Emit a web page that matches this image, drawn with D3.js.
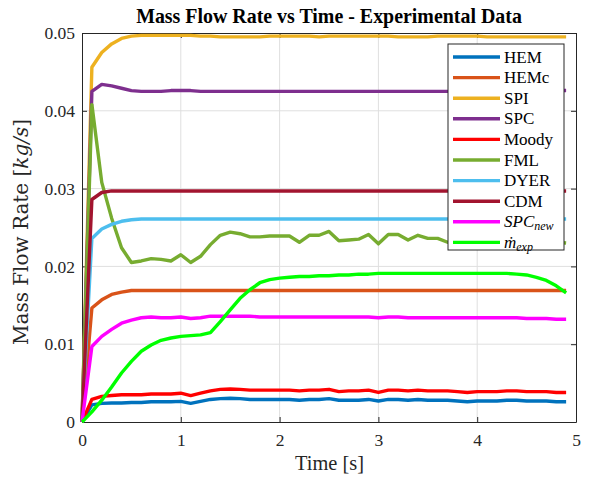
<!DOCTYPE html>
<html><head><meta charset="utf-8">
<script src="https://cdn.jsdelivr.net/npm/d3@7"></script>
<style>body{margin:0;background:#fff}svg{display:block}svg text{font-family:"Liberation Serif","Times New Roman",serif}</style>
</head><body><svg id="c" width="589" height="479"></svg>
<script>
const time = [0,0.1,0.2,0.3,0.4,0.5,0.6,0.7,0.8,0.9,1.0,1.1,1.2,1.3,1.4,1.5,1.6,1.7,1.8,1.9,2.0,2.1,2.2,2.3,2.4,2.5,2.6,2.7,2.8,2.9,3.0,3.1,3.2,3.3,3.4,3.5,3.6,3.7,3.8,3.9,4.0,4.1,4.2,4.3,4.4,4.5,4.6,4.7,4.8,4.9];
const HEM = [0,.0022,.0024,.00245,.00245,.0025,.0025,.0026,.0026,.0026, .00265,.0024,.00265,.0029,.0030,.00305,.0030,.0029,.0029,.0029, .0029,.0029,.0028,.0029,.0029,.0030,.0028,.0028,.0028,.0029, .0027,.0029,.0029,.0028,.0029,.0028,.0028,.0028,.0027,.0026, .0027,.0027,.0027,.0028,.0028,.0027,.0027,.0027,.0026,.0026];
const HEMc = [0,.01465,.0157,.0164,.0167,.0169,.0169,.0169,.0169,.0169, .0169,.0169,.0169,.0169,.0169,.0169,.0169,.0169,.0169,.0169, .0169,.0169,.0169,.0169,.0169,.0169,.0169,.0169,.0169,.0169, .0169,.0169,.0169,.0169,.0169,.0169,.0169,.0169,.0169,.0169, .0169,.0169,.0169,.0169,.0169,.0169,.0169,.0169,.0169,.0169];
const SPI = [0,.0456,.0475,.0486,.0493,.0496,.0497,.0497,.0497,.0497, .0497,.0497,.0496,.0496,.0495,.0495,.0495,.0495,.0495,.0496, .0496,.0496,.0496,.0496,.0495,.0496,.0496,.0496,.0496,.0496, .0496,.0496,.0495,.0495,.0495,.0495,.0496,.0496,.0496,.0496, .0496,.0495,.0495,.0495,.0495,.0495,.0495,.0495,.0495,.0495];
const SPC = [0,.0425,.0434,.0432,.0429,.0426,.0425,.0425,.0425,.0426, .0426,.0426,.0425,.0425,.0425,.0425,.0425,.0425,.0425,.0425, .0425,.0425,.0425,.0425,.0425,.0425,.0425,.0425,.0425,.0425, .0425,.0425,.0425,.0425,.0425,.0425,.0425,.0425,.0425,.0425, .0425,.0425,.0425,.0425,.0425,.0426,.0426,.0426,.0426,.0426];
const Moody = [0,.0029,.0033,.0034,.0035,.0035,.0035,.0036,.0036,.0036, .0037,.0034,.0037,.0040,.0042,.00425,.0042,.0041,.0041,.0041, .0041,.0041,.0040,.0041,.0041,.0042,.0039,.0040,.0040,.0041, .0038,.0041,.0041,.0040,.0041,.0040,.0040,.0040,.0039,.0038, .0039,.0039,.0039,.0040,.0040,.0039,.0039,.0039,.0038,.0038];
const FML = [0,.0408,.0308,.0262,.0224,.0205,.0207,.0210,.0209,.0207, .0215,.0205,.0213,.0228,.0240,.0244,.0242,.0238,.0238,.0239, .0239,.0239,.0231,.0240,.0240,.0245,.0233,.0234,.0235,.0241, .0229,.0241,.0241,.0234,.0240,.0236,.0236,.0231,.0234,.0233, .0235,.0232,.0234,.0233,.0232,.0233,.0231,.0232,.0231,.0230];
const DYER = [0,.0236,.0248,.0254,.0258,.0260,.0261,.0261,.0261,.0261, .0261,.0261,.0261,.0261,.0261,.0261,.0261,.0261,.0261,.0261, .0261,.0261,.0261,.0261,.0261,.0261,.0261,.0261,.0261,.0261, .0261,.0261,.0261,.0261,.0261,.0261,.0261,.0261,.0261,.0261, .0261,.0261,.0261,.0261,.0261,.0261,.0261,.0261,.0261,.0261];
const CDM = [0,.0286,.0295,.0297,.0297,.0297,.0297,.0297,.0297,.0297, .0297,.0297,.0297,.0297,.0297,.0297,.0297,.0297,.0297,.0297, .0297,.0297,.0297,.0297,.0297,.0297,.0297,.0297,.0297,.0297, .0297,.0297,.0297,.0297,.0297,.0297,.0297,.0297,.0297,.0297, .0297,.0297,.0297,.0297,.0297,.0297,.0297,.0297,.0297,.0297];
const SPCnew = [0,.0097,.0110,.0119,.0127,.0131,.0134,.0135,.0134,.0134, .0135,.0133,.0134,.0136,.0136,.0136,.0136,.0136,.0135,.0135, .0135,.0135,.0135,.0135,.0135,.0135,.0135,.0135,.0135,.0135, .0134,.0135,.0135,.0134,.0134,.0134,.0134,.0134,.0134,.0134, .0134,.0134,.0134,.0134,.0134,.0133,.0133,.0133,.0132,.0132];
const mexp = [0,.0013,.0028,.0045,.0063,.0078,.0091,.0099,.0105,.0108, .0110,.0111,.0112,.0115,.0129,.0144,.0159,.0170,.0179,.0183, .0185,.0186,.0187,.0187,.0188,.0188,.0189,.0189,.0190,.0190, .0191,.0191,.0191,.0191,.0191,.0191,.0191,.0191,.0191,.0191, .0191,.0191,.0191,.0191,.0190,.0189,.0186,.0182,.0175,.0166];
const xTicks = [0,1,2,3,4,5];
const yTicks = [0,0.01,0.02,0.03,0.04,0.05];
const yTickLabels = ["0","0.01","0.02","0.03","0.04","0.05"];
const seriesNames = ["HEM","HEMc","SPI","SPC","Moody","FML","DYER","CDM","SPCnew","mexp"];
const seriesValues = [HEM,HEMc,SPI,SPC,Moody,FML,DYER,CDM,SPCnew,mexp];
const colors = ["#0072BD","#D95319","#EDB120","#7E2F8E","#FF0000","#77AC30","#4DBEEE","#A2142F","#FF00FF","#00FF00"];

const L=82,R=576,T=33,B=422;
const svg=d3.select("#c");
const font='"Liberation Serif","Times New Roman",serif';
const font2='"DejaVu Serif","Liberation Serif",serif';
const x=d3.scaleLinear().domain([0,5]).range([L,R]);
const y=d3.scaleLinear().domain([0,0.05]).range([B,T]);

function fit(sel,target){
  const fs=parseFloat(sel.style("font-size"));
  const w=sel.node().getComputedTextLength();
  if(w>0) sel.style("font-size",(fs*target/w)+"px");
}

// grid
const g=svg.append("g");
g.selectAll(".gx").data(xTicks.slice(1,-1)).enter().append("line")
 .attr("x1",d=>x(d)).attr("x2",d=>x(d)).attr("y1",T).attr("y2",B)
 .attr("stroke","#dfdfdf").attr("stroke-width",1);
g.selectAll(".gy").data(yTicks.slice(1,-1)).enter().append("line")
 .attr("y1",d=>y(d)).attr("y2",d=>y(d)).attr("x1",L).attr("x2",R)
 .attr("stroke","#dfdfdf").attr("stroke-width",1);

// axes
const ax=d3.axisBottom(x).tickValues(xTicks).tickFormat(d3.format("d")).tickSizeInner(-5).tickSizeOuter(0).tickPadding(12);
const ay=d3.axisLeft(y).tickValues(yTicks).tickFormat((d,i)=>yTickLabels[i]).tickSizeInner(-5).tickSizeOuter(0).tickPadding(7);
const gx=svg.append("g").attr("transform",`translate(0,${B})`).call(ax);
const gy=svg.append("g").attr("transform",`translate(${L},0)`).call(ay);
const gx2=svg.append("g").attr("transform",`translate(0,${T})`).call(d3.axisTop(x).tickValues(xTicks).tickFormat("").tickSizeInner(-5).tickSizeOuter(0));
const gy2=svg.append("g").attr("transform",`translate(${R},0)`).call(d3.axisRight(y).tickValues(yTicks).tickFormat("").tickSizeInner(-5).tickSizeOuter(0));
[gx,gy,gx2,gy2].forEach(a=>{a.attr("font-family",null).attr("font-size",null);
 a.selectAll("path").attr("stroke","#262626");a.selectAll("line").attr("stroke","#262626");
 a.selectAll("text").style("font-family",font).style("font-size","17.5px").attr("fill","#262626");});

// lines
const line=d3.line().x((d,i)=>x(time[i])).y(d=>y(d));
const lg=svg.append("g");
seriesValues.forEach((s,k)=>{
 lg.append("path").datum(s).attr("d",line).attr("fill","none").attr("stroke",colors[k]).attr("stroke-width",3.4).attr("stroke-linejoin","round");
});

// title & labels
const title=svg.append("text").attr("x",(L+R)/2).attr("y",23).attr("text-anchor","middle").style("font-family",font)
 .style("font-weight","bold").style("font-size","18px").attr("fill","#000").text("Mass Flow Rate vs Time - Experimental Data");
fit(title,386);
const xl=svg.append("text").attr("x",329.5).attr("y",470).attr("text-anchor","middle").style("font-family",font)
 .style("font-size","18px").attr("fill","#262626").text("Time [s]");
fit(xl,69);
const yl=svg.append("text").attr("transform",`translate(28,232) rotate(-90)`).attr("text-anchor","middle")
 .style("font-family",font2).style("font-size","17px").style("font-weight","300").attr("fill","#262626");
yl.append("tspan").text("Mass Flow Rate [");
yl.append("tspan").style("font-style","italic").text("kg/s");
yl.append("tspan").text("]");
fit(yl,226);

// legend
const lx=448,ly=44,lw=116,lh=206,step=20.6;
const leg=svg.append("g");
leg.append("rect").attr("x",lx).attr("y",ly).attr("width",lw).attr("height",lh).attr("fill","#fff").attr("stroke","#262626").attr("stroke-width",1);
seriesNames.forEach((n,i)=>{
 const yy=ly+13+i*step;
 leg.append("line").attr("x1",lx+5).attr("x2",lx+52).attr("y1",yy).attr("y2",yy).attr("stroke",colors[i]).attr("stroke-width",3.4);
 const t=leg.append("text").attr("x",lx+56).attr("y",yy+5.5).style("font-family",font).style("font-size","17px").attr("fill","#000");
 if(n==="SPCnew"){ t.append("tspan").style("font-style","italic").text("SPC");
   t.append("tspan").style("font-style","italic").style("font-size","12px").attr("dy",3).text("new"); }
 else if(n==="mexp"){ t.append("tspan").style("font-style","italic").text("\u1E41");
   t.append("tspan").style("font-style","italic").style("font-size","12px").attr("dy",3).text("exp"); }
 else t.text(n);
});
</script></body></html>
